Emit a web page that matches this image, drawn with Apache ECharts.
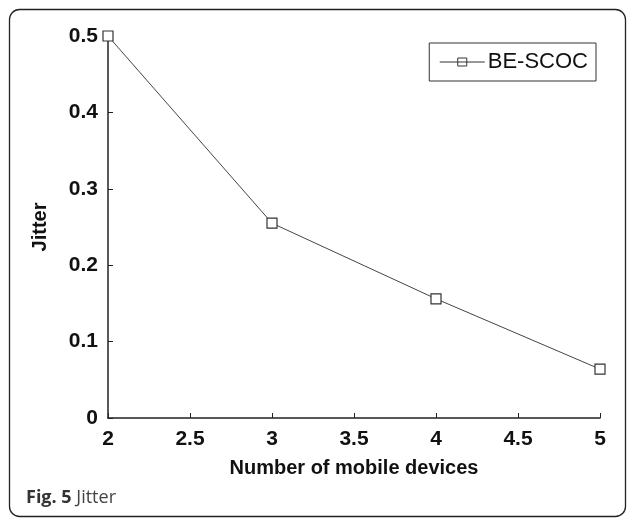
<!DOCTYPE html>
<html>
<head>
<meta charset="utf-8">
<script src="https://cdn.jsdelivr.net/npm/echarts@6/dist/echarts.min.js"></script>
<style>
  html, body { margin: 0; padding: 0; background: #fff; }
  #chart { width: 630px; height: 518px; }
</style>
</head>
<body>
<div id="chart"></div>
<script>
// Jitter vs. number of mobile devices
const devices = [2, 3, 4, 5];
const jitterBESCOC = [0.5, 0.255, 0.156, 0.064];
const seriesName = 'BE-SCOC';
const xTicks = [2, 2.5, 3, 3.5, 4, 4.5, 5];
const yTicks = [0, 0.1, 0.2, 0.3, 0.4, 0.5];

const chart = echarts.init(document.getElementById('chart'), null, { renderer: 'canvas' });

const axisFont = {
  fontFamily: 'Liberation Sans, Arial, sans-serif',
  fontWeight: 'bold',
  fontSize: 21,
  color: '#111'
};

chart.setOption({
  backgroundColor: '#fff',
  animation: false,
  grid: { left: 108, top: 36, right: 30, bottom: 100, containLabel: false },
  legend: {
    data: [{ name: seriesName, icon: 'path://M0,5 L45,5 M18,1 L27,1 L27,9 L18,9 Z' }],
    right: 34,
    top: 43,
    orient: 'vertical',
    itemWidth: 45,
    itemHeight: 10,
    itemGap: 0,
    padding: [8, 8, 8, 10],
    borderColor: '#333',
    borderWidth: 1,
    borderRadius: 0,
    itemStyle: { color: '#fff', borderColor: '#333', borderWidth: 1 },
    textStyle: {
      fontFamily: 'Liberation Sans, Arial, sans-serif',
      fontSize: 22,
      color: '#111',
      padding: [0, 0, 0, -2]
    }
  },
  xAxis: {
    type: 'value',
    min: 2,
    max: 5,
    interval: 0.5,
    name: 'Number of mobile devices',
    nameLocation: 'middle',
    nameGap: 40,
    nameTextStyle: Object.assign({}, axisFont, { fontSize: 20, letterSpacing: -0.5 }),
    axisLine: { show: true, lineStyle: { color: '#222', width: 1.5 } },
    axisTick: { show: true, inside: true, length: 5, lineStyle: { color: '#222', width: 1 } },
    axisLabel: Object.assign({}, axisFont, {
      margin: 11,
      formatter: v => xTicks.includes(v) ? String(v) : ''
    }),
    splitLine: { show: false }
  },
  yAxis: {
    type: 'value',
    min: 0,
    max: 0.5,
    interval: 0.1,
    name: 'Jitter',
    nameLocation: 'middle',
    nameGap: 58,
    nameTextStyle: Object.assign({}, axisFont, { fontSize: 20 }),
    axisLine: { show: true, lineStyle: { color: '#222', width: 1.5 } },
    axisTick: { show: true, inside: true, length: 5, lineStyle: { color: '#222', width: 1 } },
    axisLabel: Object.assign({}, axisFont, {
      margin: 10,
      formatter: v => {
        const t = yTicks.find(k => Math.abs(k - v) < 1e-9);
        return t === undefined ? '' : (t === 0 ? '0' : t.toFixed(1));
      }
    }),
    splitLine: { show: false }
  },
  series: [{
    name: seriesName,
    type: 'line',
    data: devices.map((d, i) => [d, jitterBESCOC[i]]),
    symbol: 'rect',
    symbolSize: 10,
    showAllSymbol: true,
    lineStyle: { color: '#444', width: 1 },
    itemStyle: { color: '#fff', borderColor: '#333', borderWidth: 1.2 },
    emphasis: { disabled: true },
    z: 3
  }],
  graphic: [
    {
      type: 'rect',
      shape: { x: 9.5, y: 9.5, width: 616, height: 507, r: 10 },
      style: { fill: 'none', stroke: '#222', lineWidth: 1.3 },
      silent: true,
      z: 0
    },
    {
      type: 'text',
      left: 26,
      top: 489,
      style: {
        text: '{b|Fig. 5} Jitter',
        rich: {
          b: { fontFamily: 'Open Sans, sans-serif', fontWeight: 'bold', fontSize: 18, fill: '#333' }
        },
        fontFamily: 'Open Sans, sans-serif',
        fontSize: 18,
        fill: '#444'
      },
      silent: true
    }
  ]
});
</script>
</body>
</html>
